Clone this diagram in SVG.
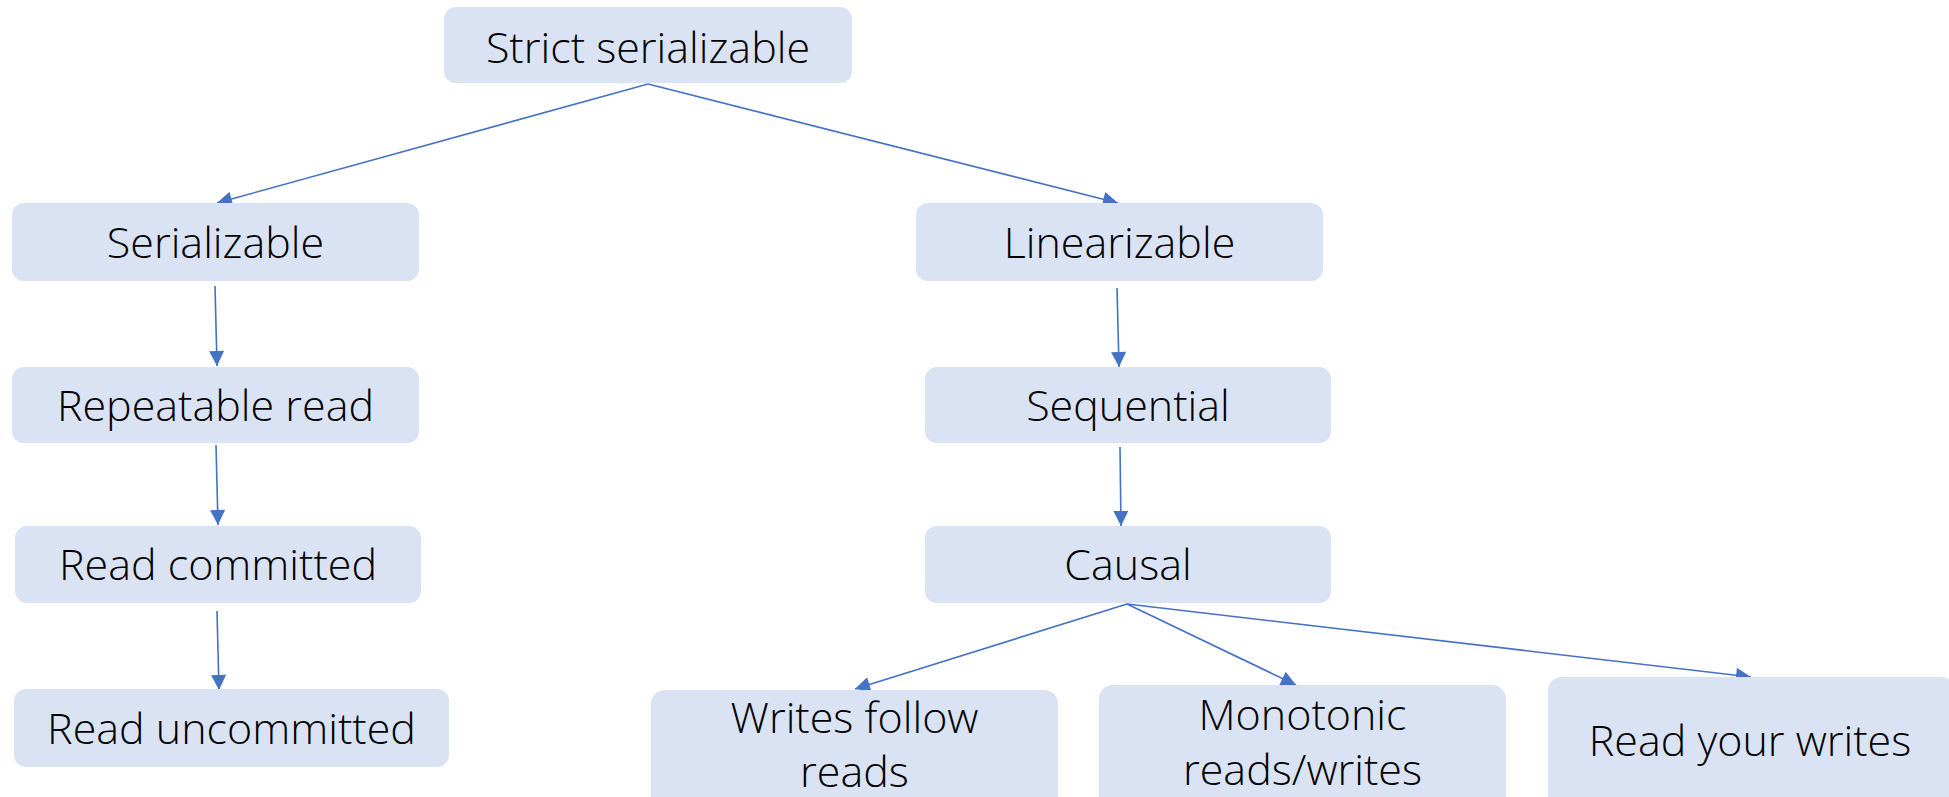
<svg xmlns="http://www.w3.org/2000/svg" width="1949" height="797" viewBox="0 0 1949 797">
  <style>
    .box { fill: #DAE3F3; }
    .lbl { font-family: "Open Sans", "Liberation Sans", sans-serif; font-weight: 300; font-size: 43px; fill: #000; text-anchor: middle; }
    .edge { stroke: #4472C4; stroke-width: 1.6; fill: none; marker-end: url(#arrow); }
  </style>
  <defs>
    <marker id="arrow" viewBox="0 0 10 10" refX="10" refY="5" markerUnits="userSpaceOnUse" markerWidth="16" markerHeight="15" orient="auto">
      <path d="M0,0 L10,5 L0,10 Z" fill="#4472C4"/>
    </marker>
  </defs>
  <rect width="1949" height="797" fill="#fff"/>

  <g id="connectors">
    <line class="edge" x1="648" y1="84" x2="217" y2="203"/>
    <line class="edge" x1="648" y1="84" x2="1118" y2="203"/>
    <line class="edge" x1="215" y1="286" x2="217" y2="366"/>
    <line class="edge" x1="216" y1="445" x2="218" y2="525"/>
    <line class="edge" x1="217" y1="611" x2="219" y2="690"/>
    <line class="edge" x1="1117" y1="288" x2="1119" y2="367"/>
    <line class="edge" x1="1120" y1="447" x2="1121" y2="526"/>
    <line class="edge" x1="1127" y1="604" x2="855" y2="689"/>
    <line class="edge" x1="1127" y1="604" x2="1296" y2="685"/>
    <line class="edge" x1="1127" y1="604" x2="1751" y2="677"/>
  </g>

  <g id="strict-serializable">
    <rect class="box" x="444" y="7" width="408" height="76" rx="12"/>
    <text class="lbl" x="648" y="63">Strict serializable</text>
  </g>
  <g id="serializable">
    <rect class="box" x="12" y="203" width="407" height="78" rx="12"/>
    <text class="lbl" x="215.5" y="258">Serializable</text>
  </g>
  <g id="repeatable-read">
    <rect class="box" x="12" y="367" width="407" height="76" rx="12"/>
    <text class="lbl" x="215.5" y="421">Repeatable read</text>
  </g>
  <g id="read-committed">
    <rect class="box" x="15" y="526" width="406" height="77" rx="12"/>
    <text class="lbl" x="218" y="580">Read committed</text>
  </g>
  <g id="read-uncommitted">
    <rect class="box" x="14" y="689" width="435" height="78" rx="12"/>
    <text class="lbl" x="231.5" y="744">Read uncommitted</text>
  </g>
  <g id="linearizable">
    <rect class="box" x="916" y="203" width="407" height="78" rx="12"/>
    <text class="lbl" x="1119.5" y="258">Linearizable</text>
  </g>
  <g id="sequential">
    <rect class="box" x="925" y="367" width="406" height="76" rx="12"/>
    <text class="lbl" x="1128" y="421">Sequential</text>
  </g>
  <g id="causal">
    <rect class="box" x="925" y="526" width="406" height="77" rx="12"/>
    <text class="lbl" x="1128" y="580">Causal</text>
  </g>
  <g id="writes-follow-reads">
    <rect class="box" x="651" y="690" width="407" height="130" rx="14"/>
    <text class="lbl" x="854.5" y="733">Writes follow</text>
    <text class="lbl" x="854.5" y="787">reads</text>
  </g>
  <g id="monotonic-reads-writes">
    <rect class="box" x="1099" y="685" width="407" height="130" rx="14"/>
    <text class="lbl" x="1302.5" y="730">Monotonic</text>
    <text class="lbl" x="1302.5" y="785">reads/writes</text>
  </g>
  <g id="read-your-writes">
    <rect class="box" x="1548" y="677" width="407" height="140" rx="14"/>
    <text class="lbl" x="1750" y="756">Read your writes</text>
  </g>
</svg>
